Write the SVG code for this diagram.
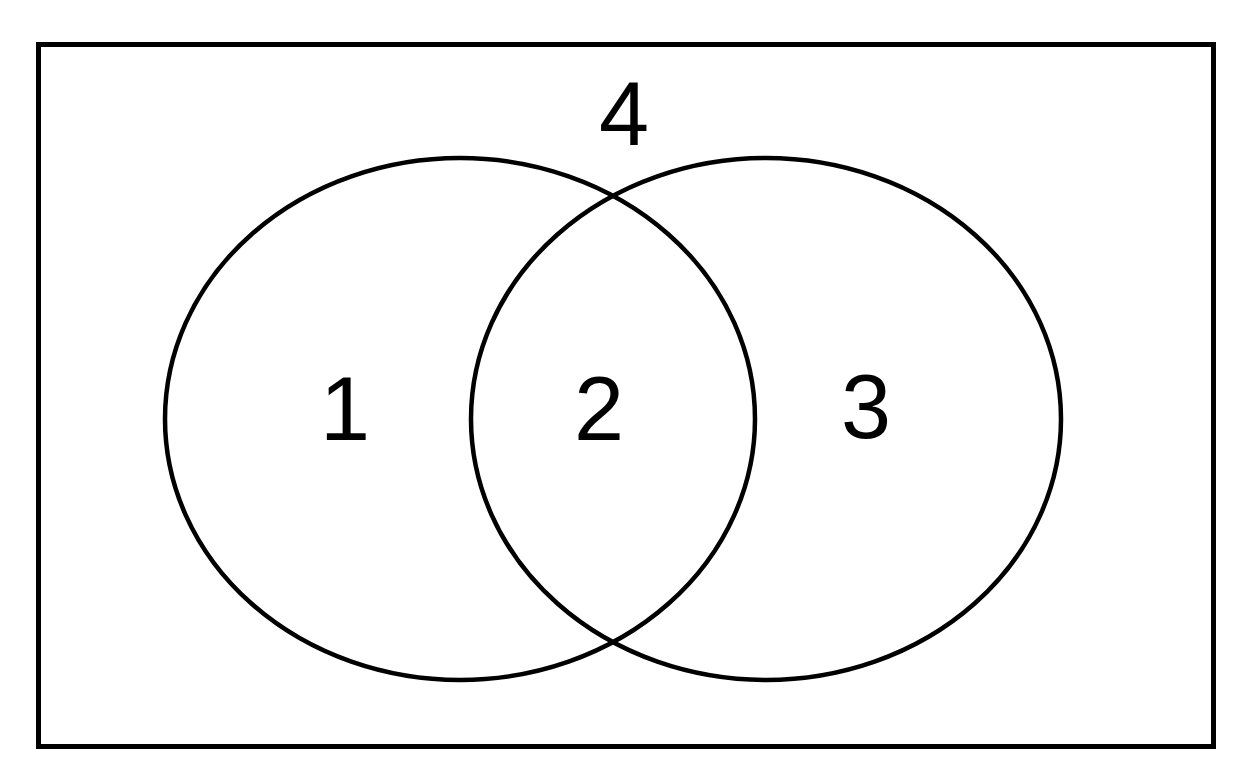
<svg xmlns="http://www.w3.org/2000/svg" width="1251" height="780" viewBox="0 0 1251 780">
<style>
.s{fill:none;stroke:#000;stroke-width:4.5}
.t{font-family:"Liberation Sans",Arial,sans-serif;font-size:90px;text-anchor:middle;fill:#000}
</style>
<rect width="1251" height="780" fill="#fff"/>
<g id="universe"><rect class="s" x="38.5" y="44.5" width="1175" height="702" style="stroke-width:5"/><text class="t" x="624" y="145">4</text></g>
<g id="setA"><ellipse class="s" cx="460" cy="419" rx="295" ry="261"/><text class="t" x="345" y="440">1</text></g>
<g id="setB"><ellipse class="s" cx="766" cy="419" rx="295" ry="261"/><text class="t" x="866" y="438">3</text></g>
<g id="intersection"><text class="t" x="599" y="440">2</text></g>
<g id="connectors"/>
</svg>
